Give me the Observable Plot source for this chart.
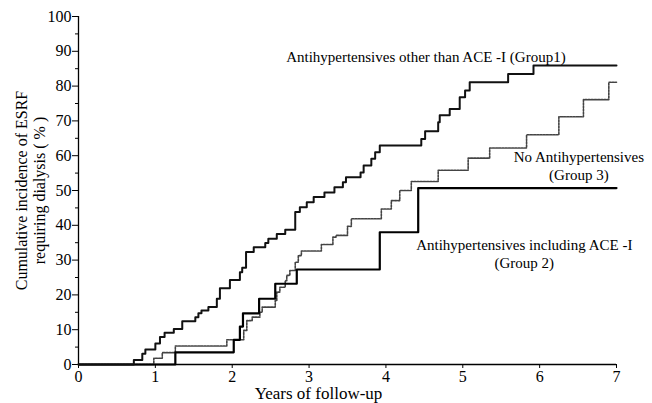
<!DOCTYPE html>
<html>
<head>
<meta charset="utf-8">
<script src="https://cdn.jsdelivr.net/npm/d3@7"></script>
<script src="https://cdn.jsdelivr.net/npm/@observablehq/plot@0.6"></script>
<style>
  html, body { margin: 0; padding: 0; background: #fff; }
  #chart svg { display: block; }
  #chart svg, #chart svg text { font-family: "Liberation Serif", "Times New Roman", serif !important; }
</style>
</head>
<body>
<div id="chart"></div>
<script>
// Group 1: Antihypertensives other than ACE-I
const g1Years = [0, 0.72, 0.83, 0.87, 1.0, 1.06, 1.12, 1.24, 1.35, 1.52, 1.56, 1.6, 1.69, 1.8, 1.84, 1.97, 2.1, 2.13, 2.18, 2.28, 2.43, 2.47, 2.58, 2.69, 2.82, 2.88, 2.97, 3.06, 3.2, 3.33, 3.44, 3.48, 3.67, 3.71, 3.81, 3.86, 3.92, 4.46, 4.51, 4.68, 4.7, 4.83, 4.96, 5.03, 5.09, 5.59, 5.92, 7];
const g1Pct   = [0, 1.3, 3.1, 4.3, 6, 7.9, 9.1, 10.2, 12.4, 13.6, 14.7, 15.5, 16.5, 18.9, 21.9, 24.3, 26.5, 27.8, 32.3, 33.7, 34.9, 36.1, 37.5, 38.7, 43.8, 45.2, 46.6, 48.1, 49.4, 50.9, 52.4, 53.8, 55.2, 57.2, 59.1, 61, 62.9, 64.8, 67, 69.6, 71.6, 73.4, 76.8, 78.7, 81.1, 83.5, 85.9, 85.9];

// Group 2: Antihypertensives including ACE-I
const g2Years = [0, 1.26, 2.02, 2.1, 2.14, 2.35, 2.56, 2.84, 3.92, 4.42, 7];
const g2Pct   = [0, 3.5, 7.1, 10.9, 14.7, 18.9, 23.2, 27.3, 38, 50.7, 50.7];

// Group 3: No antihypertensives
const g3Years = [0, 0.98, 1.09, 1.26, 1.93, 2.15, 2.19, 2.26, 2.36, 2.39, 2.56, 2.58, 2.62, 2.69, 2.71, 2.75, 2.82, 2.86, 2.9, 3.16, 3.31, 3.35, 3.5, 3.55, 3.94, 4.07, 4.18, 4.33, 4.68, 5.07, 5.35, 5.83, 6.25, 6.57, 6.9, 7];
const g3Pct   = [0, 1.8, 3.4, 5.3, 7.1, 9.8, 12.6, 13.6, 15, 16.5, 18.4, 20.8, 22.2, 24.1, 25.6, 27, 29.4, 31.3, 32.6, 34.5, 36.6, 37.1, 39.7, 41.9, 44.7, 47.1, 50, 52.6, 55.8, 59.3, 62.2, 66, 71.2, 76.1, 81.1, 81.1];

const xTicks = [0, 1, 2, 3, 4, 5, 6, 7];
const yTicks = [0, 10, 20, 30, 40, 50, 60, 70, 80, 90, 100];
const yMinorTicks = [5, 15, 25, 35, 45, 55, 65, 75, 85, 95];

const label1 = "Antihypertensives other than ACE -I (Group1)";
const label3 = "No Antihypertensives\n(Group 3)";
const label2 = "Antihypertensives including ACE -I\n(Group 2)";
const xTitle = "Years of follow-up";
const yTitle = "Cumulative incidence of ESRF\nrequiring dialysis ( % )";

const toRows = (xs, ys) => xs.map((x, i) => ({x, y: ys[i]}));
const g1 = toRows(g1Years, g1Pct);
const g2 = toRows(g2Years, g2Pct);
const g3 = toRows(g3Years, g3Pct);

const chart = Plot.plot({
  width: 652,
  height: 403,
  marginLeft: 78,
  marginRight: 36,
  marginTop: 16,
  marginBottom: 39,
  style: {fontFamily: "Liberation Serif, Times New Roman, serif", fontSize: "15px", color: "#000", background: "#fff"},
  x: {domain: [0, 7]},
  y: {domain: [0, 100]},
  marks: [
    Plot.axisY({ticks: yMinorTicks, tickSize: 3, tickFormat: () => "", label: null}),
    Plot.axisY({ticks: yTicks, tickSize: 6, tickPadding: 1, tickFormat: d => String(d), label: null, fontSize: 16}),
    Plot.axisX({ticks: xTicks, tickSize: 4, tickPadding: 2, tickFormat: d => String(d), label: null, fontSize: 16}),
    Plot.ruleX([0], {stroke: "#000", strokeWidth: 1.3}),
    Plot.ruleY([0], {stroke: "#000", strokeWidth: 1.3}),
    Plot.line(g3, {x: "x", y: "y", curve: "step-after", stroke: "#444", strokeWidth: 1.6, strokeDasharray: "2,1.2"}),
    Plot.line(g2, {x: "x", y: "y", curve: "step-after", stroke: "#000", strokeWidth: 2.2}),
    Plot.line(g1, {x: "x", y: "y", curve: "step-after", stroke: "#111", strokeWidth: 2}),
    Plot.text([label1], {x: 4.52, y: 88.2, text: d => d, fontSize: 15, textAnchor: "middle"}),
    Plot.text([label3], {x: 6.51, y: 57.3, text: d => d, fontSize: 15, textAnchor: "middle", lineHeight: 1.2}),
    Plot.text([label2], {x: 5.8, y: 32, text: d => d, fontSize: 15, textAnchor: "middle", lineHeight: 1.2}),
    Plot.text([xTitle], {frameAnchor: "bottom", dx: -29, dy: 29, lineAnchor: "middle", textAnchor: "middle", text: d => d, fontSize: 17}),
    Plot.text([yTitle], {frameAnchor: "left", dx: -48, textAnchor: "middle", lineAnchor: "middle", text: d => d, fontSize: 16, rotate: -90, lineHeight: 1.1})
  ]
});
document.getElementById("chart").appendChild(chart);
</script>
</body>
</html>
